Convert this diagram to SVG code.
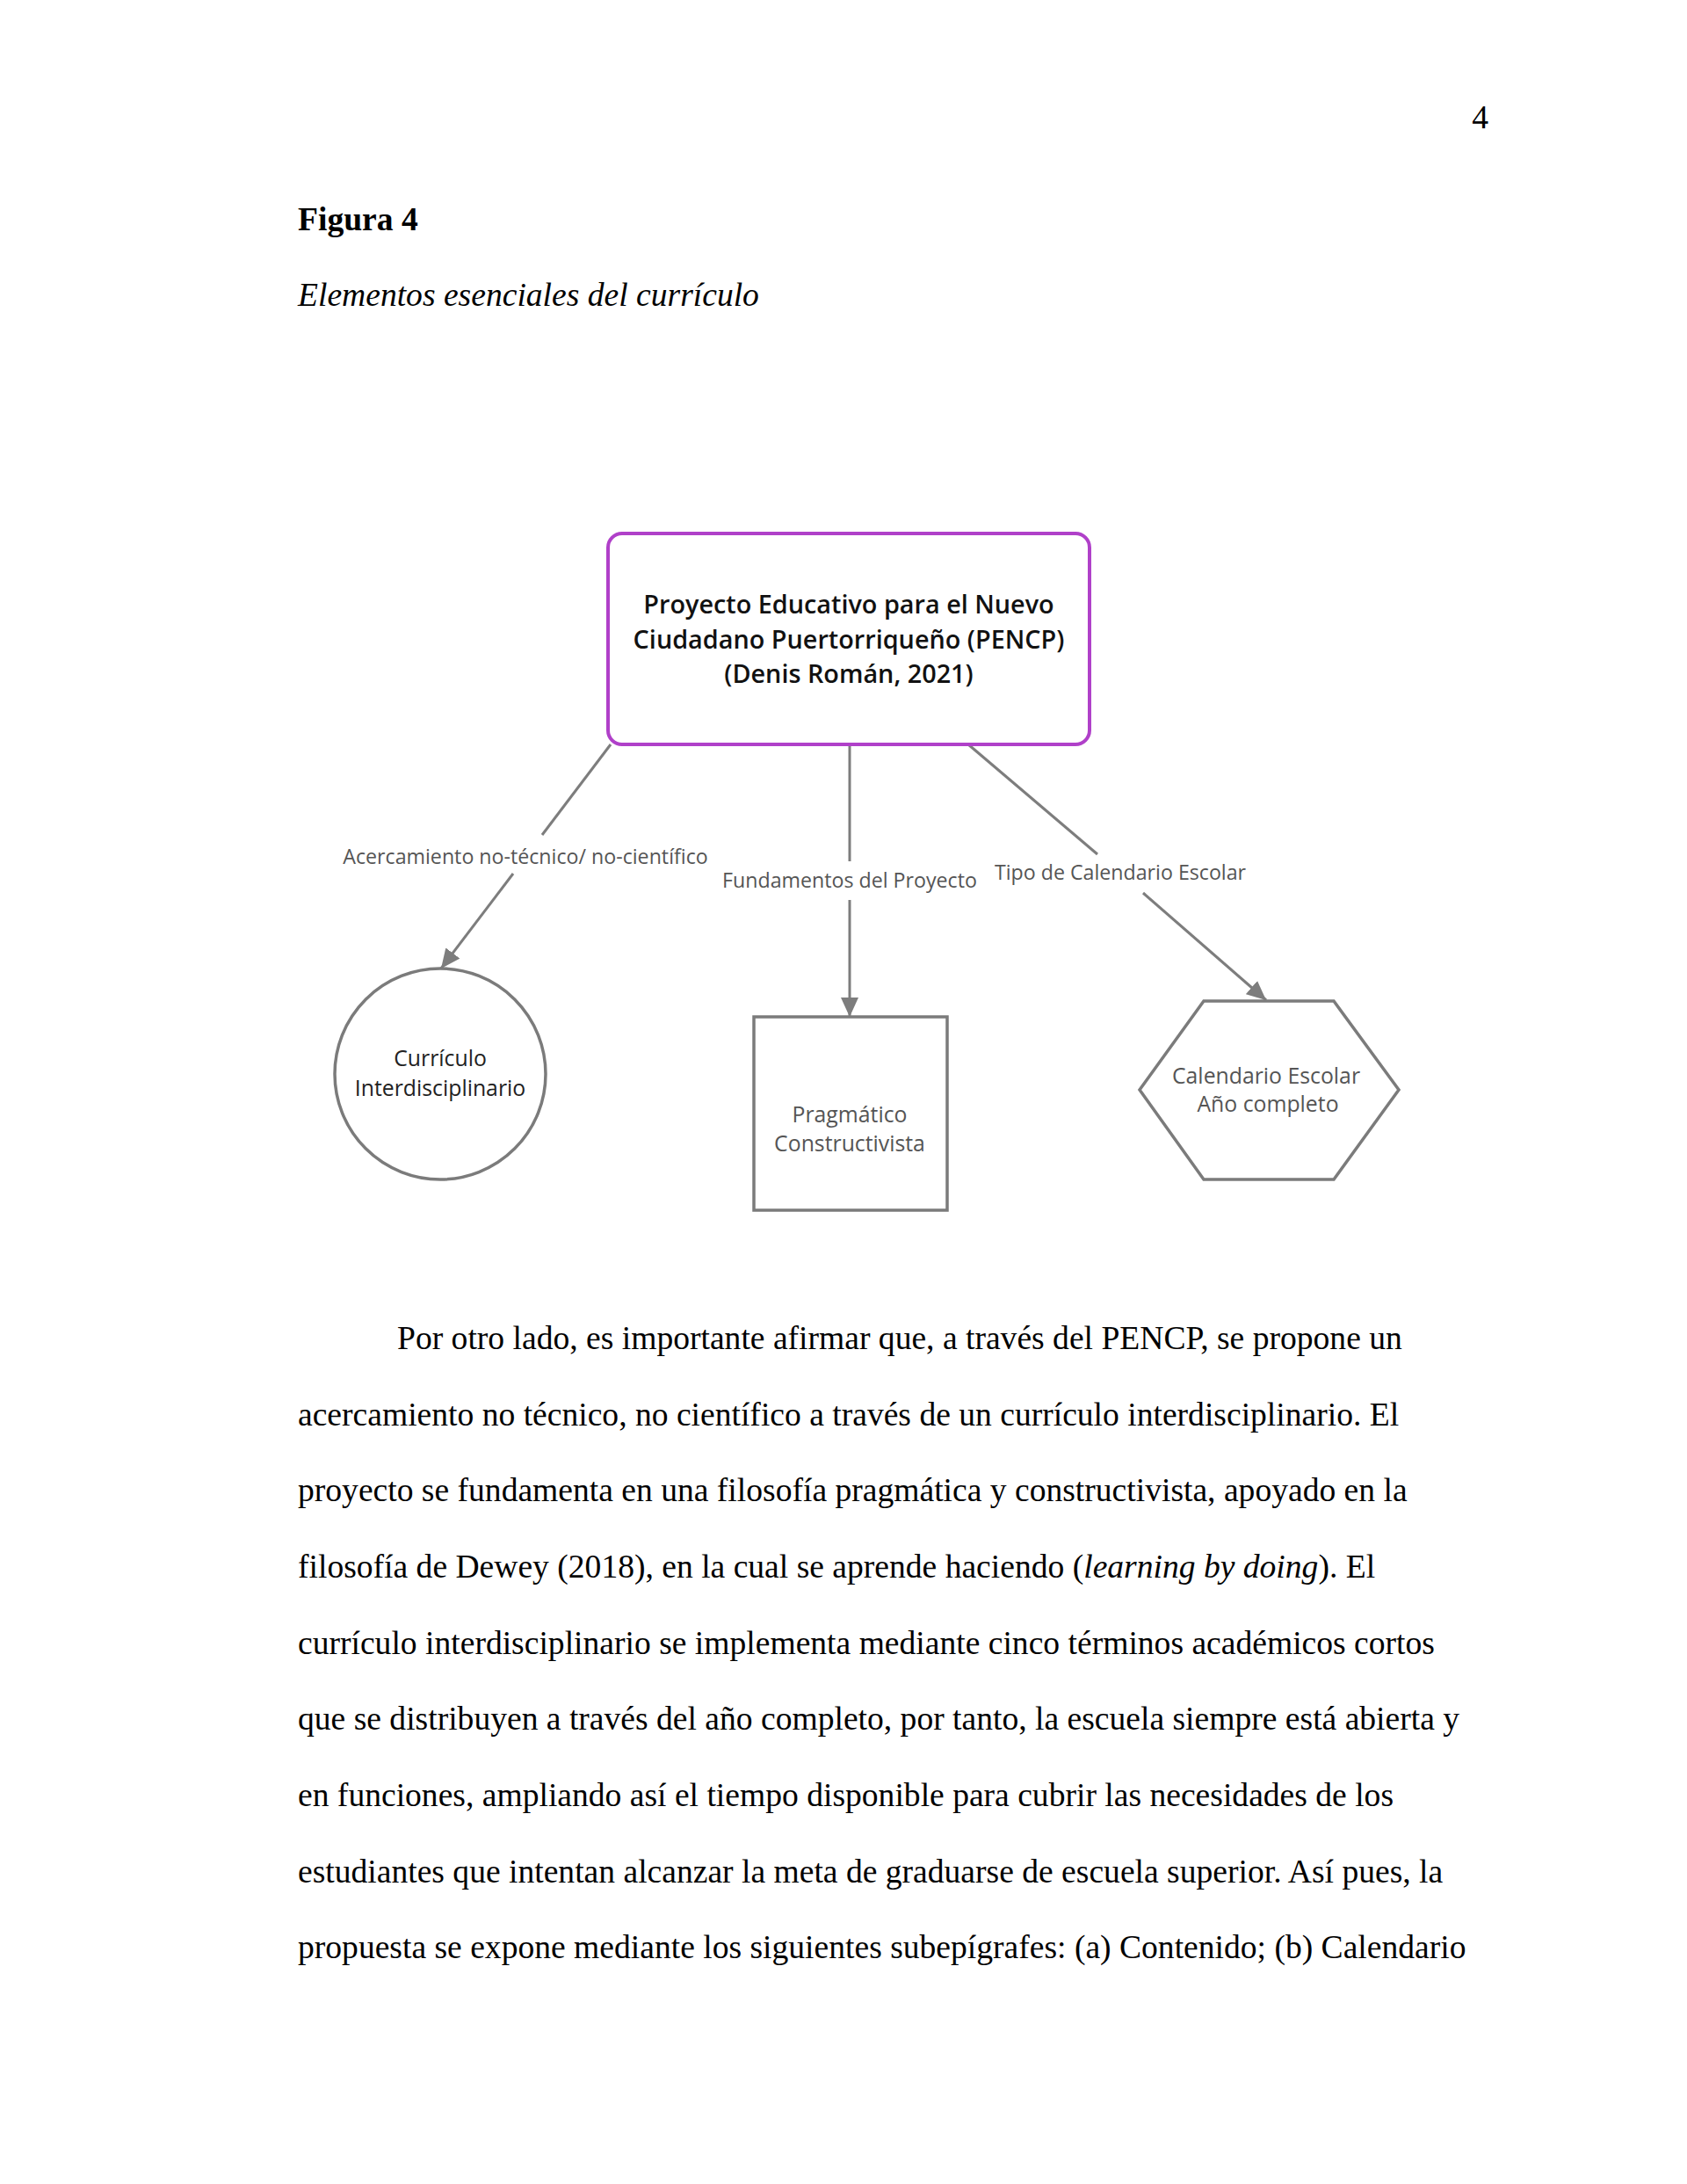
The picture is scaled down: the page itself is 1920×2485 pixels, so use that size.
<svg xmlns="http://www.w3.org/2000/svg" width="1920" height="2485" viewBox="0 0 1920 2485">
<style>
.page{font-family:"Liberation Serif","Times New Roman",serif;font-size:37.6px;fill:#000}
.ttl{font-family:"Open Sans","Noto Sans",sans-serif;font-weight:600;font-size:28.8px;fill:#111;text-anchor:middle}
.nd{font-family:"Open Sans","Noto Sans",sans-serif;font-size:24.8px;text-anchor:middle}
.lbl{font-family:"Open Sans","Noto Sans",sans-serif;font-size:23.2px;fill:#555;text-anchor:middle}
.shape{fill:#fff;stroke:#7b7b7b;stroke-width:3.5}
.edge{fill:none;stroke:#7d7d7d;stroke-width:3}
</style>
<defs>
<marker id="arr" viewBox="0 0 22 20" refX="22" refY="10" markerWidth="22" markerHeight="20" markerUnits="userSpaceOnUse" orient="auto">
<path d="M0,0 L22,10 L0,20 Z" fill="#7d7d7d"/>
</marker>
</defs>
<rect width="1920" height="2485" fill="#fff"/>

<text class="page" x="1694" y="146" text-anchor="end">4</text>
<text class="page" x="339" y="262" font-weight="bold">Figura 4</text>
<text class="page" x="339" y="348" font-style="italic">Elementos esenciales del currículo</text>

<g id="connectors">
<line class="edge" x1="695" y1="847" x2="617" y2="950"/>
<line class="edge" x1="584" y1="994" x2="502" y2="1102" marker-end="url(#arr)"/>
<line class="edge" x1="967" y1="847" x2="967" y2="980"/>
<line class="edge" x1="967" y1="1024" x2="967" y2="1157" marker-end="url(#arr)"/>
<line class="edge" x1="1102" y1="847" x2="1249" y2="972"/>
<line class="edge" x1="1301" y1="1016" x2="1441" y2="1138" marker-end="url(#arr)"/>
<text class="lbl" x="598" y="983">Acercamiento no-técnico/ no-científico</text>
<text class="lbl" x="967" y="1010">Fundamentos del Proyecto</text>
<text class="lbl" x="1275" y="1001">Tipo de Calendario Escolar</text>
</g>

<g id="node-pencp">
<rect x="692" y="607" width="548" height="240" rx="16" ry="16" fill="#fff" stroke="#b040c9" stroke-width="4"/>
<text class="ttl" x="966" y="698">Proyecto Educativo para el Nuevo</text>
<text class="ttl" x="966" y="738">Ciudadano Puertorriqueño (PENCP)</text>
<text class="ttl" x="966" y="777">(Denis Román, 2021)</text>
</g>

<g id="node-curriculo">
<circle class="shape" cx="501" cy="1222" r="120"/>
<text class="nd" x="501" y="1213" fill="#222">Currículo</text>
<text class="nd" x="501" y="1247" fill="#222">Interdisciplinario</text>
</g>

<g id="node-pragmatico">
<rect class="shape" x="858" y="1157" width="220" height="220"/>
<text class="nd" x="967" y="1277" fill="#555">Pragmático</text>
<text class="nd" x="967" y="1310" fill="#555">Constructivista</text>
</g>

<g id="node-calendario">
<polygon class="shape" points="1297,1240 1370,1139 1518,1139 1592,1240 1518,1342 1370,1342"/>
<text class="nd" x="1441" y="1233" fill="#555">Calendario Escolar</text>
<text class="nd" x="1443" y="1265" fill="#555">Año completo</text>
</g>

<g class="page">
<text x="452" y="1535">Por otro lado, es importante afirmar que, a través del PENCP, se propone un</text>
<text x="339" y="1622">acercamiento no técnico, no científico a través de un currículo interdisciplinario. El</text>
<text x="339" y="1708">proyecto se fundamenta en una filosofía pragmática y constructivista, apoyado en la</text>
<text x="339" y="1795">filosofía de Dewey (2018), en la cual se aprende haciendo (<tspan font-style="italic">learning by doing</tspan>). El</text>
<text x="339" y="1882">currículo interdisciplinario se implementa mediante cinco términos académicos cortos</text>
<text x="339" y="1968">que se distribuyen a través del año completo, por tanto, la escuela siempre está abierta y</text>
<text x="339" y="2055">en funciones, ampliando así el tiempo disponible para cubrir las necesidades de los</text>
<text x="339" y="2142">estudiantes que intentan alcanzar la meta de graduarse de escuela superior. Así pues, la</text>
<text x="339" y="2228">propuesta se expone mediante los siguientes subepígrafes: (a) Contenido; (b) Calendario</text>
</g>
</svg>
